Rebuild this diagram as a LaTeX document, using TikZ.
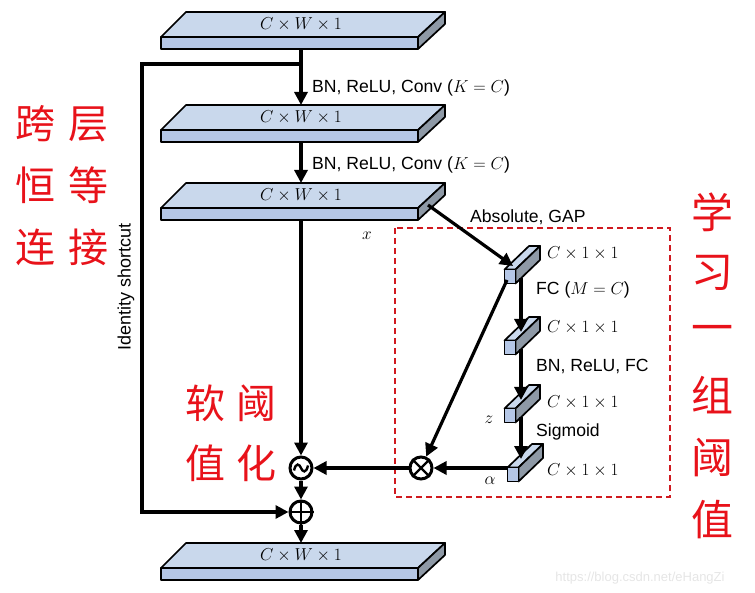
\documentclass[tikz,border=0pt]{standalone}
\usepackage{fontspec}
\setmainfont{Liberation Sans}
\newfontfamily\cjk{Noto Sans CJK SC}
\usetikzlibrary{arrows.meta}
\definecolor{slabtop}{HTML}{C9D8EC}
\definecolor{slabfront}{HTML}{B5C7E6}
\definecolor{slabside}{HTML}{8E99A6}
\definecolor{redc}{HTML}{E8121A}
\definecolor{boxred}{HTML}{D0191F}
\tikzset{
  edge/.style={draw=black,line width=1.7pt,line join=round},
  arr/.style={line width=3.2pt,-{Triangle[length=13pt,width=13pt]}},
  lbl/.style={font=\fontsize{17.6}{19}\selectfont,inner sep=0pt},
  dimlbl/.style={font=\fontsize{17}{19}\selectfont,inner sep=0pt},
  zh/.style={font=\cjk\fontsize{40}{42}\selectfont,text=redc,inner sep=0pt},
  zhr/.style={font=\cjk\fontsize{42}{44}\selectfont,text=redc,inner sep=0pt},
  opc/.style={circle,draw=black,line width=3pt,minimum size=22pt,inner sep=0pt},
  slab/.pic={
    \filldraw[fill=slabtop,edge] (-140,13) -- (117,13) -- (144,-12) -- (-115,-12) -- cycle;
    \filldraw[fill=slabfront,edge] (-140,13) rectangle (117,25);
    \filldraw[fill=slabside,edge] (117,13) -- (144,-12) -- (144,0) -- (117,25) -- cycle;
    \node[dimlbl] (-t) at (0,0) {$C\times W\times 1$};
    \coordinate (-top) at (0,-12);
    \coordinate (-bot) at (0,25);
    \coordinate (-side) at (127,10);
  },
  bar/.pic={
    \filldraw[fill=slabtop,edge] (-5.5,-6.5) -- (5.5,-6.5) -- (30,-30) -- (19,-30) -- cycle;
    \filldraw[fill=slabside,edge] (5.5,-6.5) -- (30,-30) -- (30,-16) -- (5.5,7.5) -- cycle;
    \filldraw[fill=slabfront,edge] (-5.5,-6.5) rectangle (5.5,7.5);
    \coordinate (-out) at (11,2);
    \coordinate (-in) at (11,-15);
    \coordinate (-abs) at (3,-10);
    \coordinate (-bl) at (-3,4);
    \coordinate (-left) at (-5.5,-5);
  }
}
\begin{document}
\begin{tikzpicture}[x=1pt,y=-1pt]
\useasboundingbox (0,0) rectangle (755,593);
% red dashed box
\draw[boxred,line width=1.8pt,dash pattern=on 6pt off 4pt] (395,228) rectangle (670,497);
% slabs
\pic (s1) at (301,24) {slab};
\pic (s2) at (301,117) {slab};
\pic (s3) at (301,195) {slab};
\pic (s4) at (301,555) {slab};
% operators
\node[opc] (soft) at (301,468) {};
\node[opc] (mul) at (421,468) {};
\node[opc] (plus) at (301,512) {};
\draw[line width=2.4pt] (mul.45) -- (mul.225) (mul.135) -- (mul.315);
\draw[line width=2.4pt] (plus.north) -- (plus.south) (plus.west) -- (plus.east);
\begin{scope}[shift={(soft.center)}]
  \draw[line width=2.4pt] (-7,2.5) .. controls (-5,-6) and (-1.5,-4) .. (0,0) .. controls (1.5,4) and (5,6) .. (7,-2.5);
\end{scope}
% shortcut coordinates
\coordinate (br) at (301,64);
\coordinate (sc1) at (142,64);
\coordinate (sc2) at (142,512);
% main connectors
\draw[arr] (s1-bot) -- (s2-top);
\draw[arr] (s2-bot) -- (s3-top);
\draw[arr] (s3-bot) -- (soft);
\draw[arr] (soft) -- (plus);
\draw[arr] (plus) -- (s4-top);
\draw[arr,line join=miter] (br) -- (sc1) -- (sc2) -- (plus);
% bars
\pic (b1) at (510,276) {bar};
\pic (b2) at (510,347) {bar};
\pic (b3) at (510,415) {bar};
\pic (b4) at (513,474) {bar};
\draw[arr] (s3-side) -- (b1-abs);
\draw[arr] (b1-bl) -- (mul);
\draw[arr] (b4-left |- mul) -- (mul);
\draw[arr] (mul) -- (soft);
\draw[arr] (b1-out) -- (b1-out |- b2-in);
\draw[arr] (b2-out) -- (b2-out |- b3-in);
\draw[arr] (b3-out) -- (b3-out |- b4-in);
% labels
\node[lbl,anchor=west] (l1) at (312,88) {BN, ReLU, Conv ($K=C$)};
\node[lbl,anchor=west] (l2) at (312,165) {BN, ReLU, Conv ($K=C$)};
\node[lbl,anchor=west] (l3) at (470,217) {Absolute, GAP};
\node[dimlbl] (lx) at (367,236) {$x$};
\node[dimlbl,anchor=west] (d1) at (547,253) {$C\times 1\times 1$};
\node[dimlbl,anchor=west] (d2) at (547,327) {$C\times 1\times 1$};
\node[dimlbl,anchor=west] (d3) at (547,402) {$C\times 1\times 1$};
\node[dimlbl,anchor=west] (d4) at (547,470) {$C\times 1\times 1$};
\node[lbl,anchor=west] (l4) at (536,290) {FC ($M=C$)};
\node[lbl,anchor=west] (l5) at (536,366) {BN, ReLU, FC};
\node[lbl,anchor=west] (l6) at (536,432) {Sigmoid};
\node[dimlbl] (lz) at (489,420) {$z$};
\node[dimlbl] (la) at (490,481) {$\alpha$};
\node[lbl,font=\fontsize{18}{20}\selectfont,rotate=90] (lid) at (126,287) {Identity shortcut};
% Chinese annotations
\node[zh] (c1) at (36,124) {跨};
\node[zh] (c2) at (88,124) {层};
\node[zh] (c3) at (36,185) {恒};
\node[zh] (c4) at (88,185) {等};
\node[zh] (c5) at (36,247) {连};
\node[zh] (c6) at (88,247) {接};
\node[zh] (c7) at (205,403) {软};
\node[zh] (c8) at (256,403) {阈};
\node[zh] (c9) at (205,463) {值};
\node[zh] (c10) at (256,463) {化};
\node[zhr] (r1) at (712,212) {学};
\node[zhr] (r2) at (712,273) {习};
\node[zhr] (r3) at (712,334) {一};
\node[zhr] (r4) at (712,395) {组};
\node[zhr] (r5) at (712,458) {阈};
\node[zhr] (r6) at (712,520) {值};
% watermark
\node[font=\fontsize{13}{15}\selectfont,text=black!10,inner sep=0pt] (wm) at (640,578) {https://blog.csdn.net/eHangZi};
\end{tikzpicture}
\end{document}
